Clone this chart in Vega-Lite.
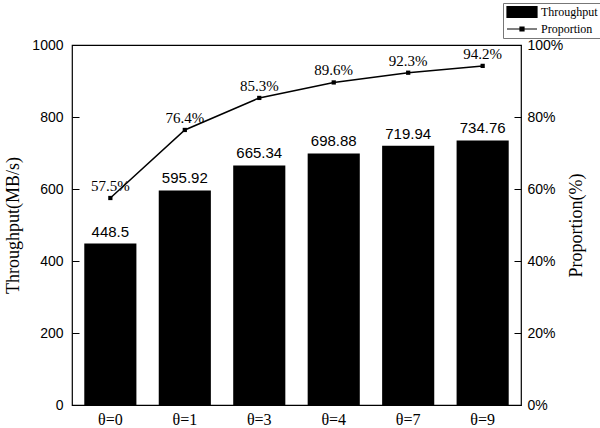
{
  "$schema": "https://vega.github.io/schema/vega-lite/v6.json",
  "width": 449,
  "height": 360,
  "autosize": {"type": "none"},
  "padding": {"left": 72, "top": 45, "right": 79, "bottom": 23},
  "background": "white",
  "config": {
    "view": {"stroke": "black", "strokeWidth": 1.2},
    "axis": {"grid": false, "domainColor": "black", "tickColor": "black", "labelColor": "black", "titleColor": "black", "titleFontWeight": "normal"}
  },
  "data": {
    "values": [
      {"theta": "θ=0", "throughput": 448.5, "proportion": 0.575},
      {"theta": "θ=1", "throughput": 595.92, "proportion": 0.764},
      {"theta": "θ=3", "throughput": 665.34, "proportion": 0.853},
      {"theta": "θ=4", "throughput": 698.88, "proportion": 0.896},
      {"theta": "θ=7", "throughput": 719.94, "proportion": 0.923},
      {"theta": "θ=9", "throughput": 734.76, "proportion": 0.942}
    ]
  },
  "encoding": {
    "x": {
      "field": "theta", "type": "nominal", "sort": null,
      "scale": {"paddingInner": 0.3, "paddingOuter": 0.165},
      "axis": {"title": null, "labelAngle": 0, "ticks": false, "domain": false, "labelFont": "Liberation Serif", "labelFontSize": 16, "labelPadding": 6}
    }
  },
  "layer": [
    {
      "mark": {"type": "bar"},
      "encoding": {
        "y": {
          "field": "throughput", "type": "quantitative",
          "scale": {"domain": [0, 1000]},
          "axis": {"title": "Throughput(MB/s)", "format": "d", "values": [0, 200, 400, 600, 800, 1000], "ticks": false, "labelPadding": 9, "labelFont": "Liberation Sans", "labelFontSize": 14, "titleFont": "Liberation Serif", "titleFontSize": 18, "titlePadding": 9, "domain": false}
        },
        "color": {
          "datum": "Throughput", "type": "nominal",
          "scale": {"domain": ["Throughput", "Proportion"], "range": ["black", "black"]},
          "legend": {
            "orient": "none", "legendX": 431, "legendY": -42, "title": null,
            "strokeColor": "#777", "fillColor": "white", "padding": 3,
            "labelFont": "Liberation Serif", "labelFontSize": 12, "labelColor": "black",
            "symbolSize": 100, "labelOffset": 23, "rowPadding": 3,
            "encode": {
              "symbols": {
                "update": {
                  "shape": {"signal": "datum.value === 'Throughput' ? 'M-1,-1.1H5V1.1H-1Z' : 'M-1,0H5M1.6,-0.4H2.4V0.4H1.6Z'"},
                  "fill": {"value": "black"},
                  "stroke": {"value": "black"},
                  "strokeWidth": {"value": 1.2}
                }
              }
            }
          }
        }
      }
    },
    {
      "mark": {"type": "text", "baseline": "bottom", "dy": -4, "font": "Liberation Sans", "fontSize": 15, "color": "black"},
      "encoding": {
        "y": {
          "field": "throughput", "type": "quantitative", "scale": {"domain": [0, 1000]},
          "axis": {"orient": "right", "offset": -449, "values": [0, 200, 400, 600, 800, 1000], "labels": false, "title": null, "domain": false, "tickSize": 7}
        },
        "text": {"field": "throughput", "type": "quantitative"}
      }
    },
    {
      "mark": {"type": "line", "strokeWidth": 1.5, "point": {"filled": true, "shape": "square", "size": 18}},
      "encoding": {
        "y": {
          "field": "proportion", "type": "quantitative",
          "scale": {"domain": [0, 1]},
          "axis": {"orient": "right", "title": "Proportion(%)", "format": "%", "values": [0, 0.2, 0.4, 0.6, 0.8, 1], "ticks": false, "labelPadding": 6, "labelFont": "Liberation Sans", "labelFontSize": 14, "titleFont": "Liberation Serif", "titleFontSize": 18, "titlePadding": 5, "titleAngle": 270, "titleBaseline": "top", "domain": false}
        },
        "color": {"datum": "Proportion", "type": "nominal"}
      }
    },
    {
      "mark": {"type": "text", "baseline": "bottom", "dy": -4, "font": "Liberation Serif", "fontSize": 15, "color": "black"},
      "encoding": {
        "y": {
          "field": "proportion", "type": "quantitative", "scale": {"domain": [0, 1]},
          "axis": {"orient": "left", "offset": -449, "values": [0, 0.2, 0.4, 0.6, 0.8, 1], "labels": false, "title": null, "domain": false, "tickSize": 7}
        },
        "text": {"field": "proportion", "type": "quantitative", "format": ".1%"}
      }
    }
  ],
  "resolve": {"scale": {"y": "independent"}}
}
